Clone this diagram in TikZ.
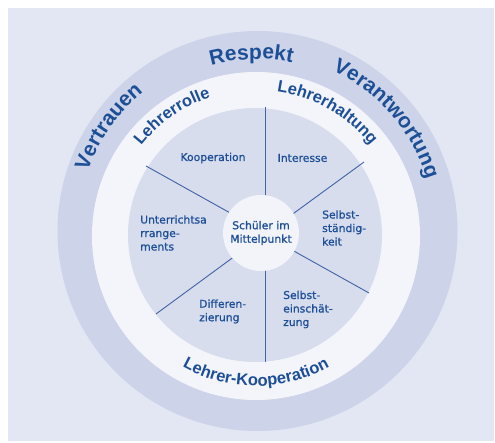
\documentclass[tikz,border=0pt]{standalone}
\usepackage{fontspec}
\setmainfont{Liberation Sans}
\newfontfamily\lblfont{DejaVu Sans}[FakeBold=0.9]
\usetikzlibrary{decorations.text}
\definecolor{bgc}{HTML}{E3E6F3}
\definecolor{outerc}{HTML}{CDD3E8}
\definecolor{ringc}{HTML}{F4F5FB}
\definecolor{innerc}{HTML}{D8DDEE}
\definecolor{hubc}{HTML}{F2F4FA}
\definecolor{tc}{HTML}{1D4F97}
\definecolor{spokec}{HTML}{3F62A6}
\tikzset{
  lbl/.style={font=\lblfont\fontsize{10.8pt}{13.5pt}\selectfont, text=tc, inner sep=0pt, align=left},
  spoke/.style={draw=spokec, line width=0.9pt},
  bigarc/.style={decorate, decoration={text along path, text align=center, text color=tc,
      text={|\bfseries\fontsize{21pt}{24pt}\selectfont|#1}}},
  midarc/.style={decorate, decoration={text along path, text align=center, text color=tc,
      text={|\bfseries\fontsize{16.5pt}{19pt}\selectfont|#1}}}
}
\begin{document}
\begin{tikzpicture}[x=1pt,y=1pt]
\useasboundingbox (0,0) rectangle (495,443);
\fill[bgc] (8,2) rectangle (494,435);
% rings
\fill[outerc] (257.5,212) circle[radius=200pt];
\fill[ringc] (256,207) circle[radius=164pt];
\fill[innerc] (255,208) circle[radius=127pt];
% spokes
\draw[spoke] (265,336) -- (265,240);
\draw[spoke] (265,181) -- (265,81);
\draw[spoke] (364,281) -- (290,227);
\draw[spoke] (146,277) -- (232,229);
\draw[spoke] (156,129) -- (235,187);
\draw[spoke] (369,150) -- (292,193);
% hub
\node[circle, fill=hubc, minimum size=76pt, inner sep=0pt, lbl, align=center] (hub) at (261,210)
  {Schüler im\\Mittelpunkt};
% outer band words
\path[bigarc=Respekt] (257.5,212) ++(122:172pt) arc[start angle=122, end angle=62, radius=172pt];
\path[bigarc=Vertrauen] (257.5,212) ++(185:180pt) arc[start angle=185, end angle=105, radius=180pt];
\path[bigarc=Verantwortung] (257.5,212) ++(82:177pt) arc[start angle=82, end angle=0, radius=177pt];
% ring words
\path[midarc=Lehrerrolle] (256,207) ++(170:146pt) arc[start angle=170, end angle=80, radius=146pt];
\path[midarc=Lehrerhaltung] (256,207) ++(110:146pt) arc[start angle=110, end angle=10, radius=146pt];
\path[midarc=Lehrer-Kooperation] (256,207) ++(200:150pt) arc[start angle=200, end angle=340, radius=150pt];
% sector labels
\node[lbl] (koop) at (213,285) {Kooperation};
\node[lbl] (inter) at (302.5,285) {Interesse};
\node[lbl, anchor=west] (unter) at (140,210) {Unterrichtsa\\rrange-\\ments};
\node[lbl, anchor=west] (selbst) at (322,215) {Selbst-\\ständig-\\keit};
\node[lbl, anchor=west] (diff) at (199,131.5) {Differen-\\zierung};
\node[lbl, anchor=west] (einsch) at (283,133.5) {Selbst-\\einschät-\\zung};
\end{tikzpicture}
\end{document}
